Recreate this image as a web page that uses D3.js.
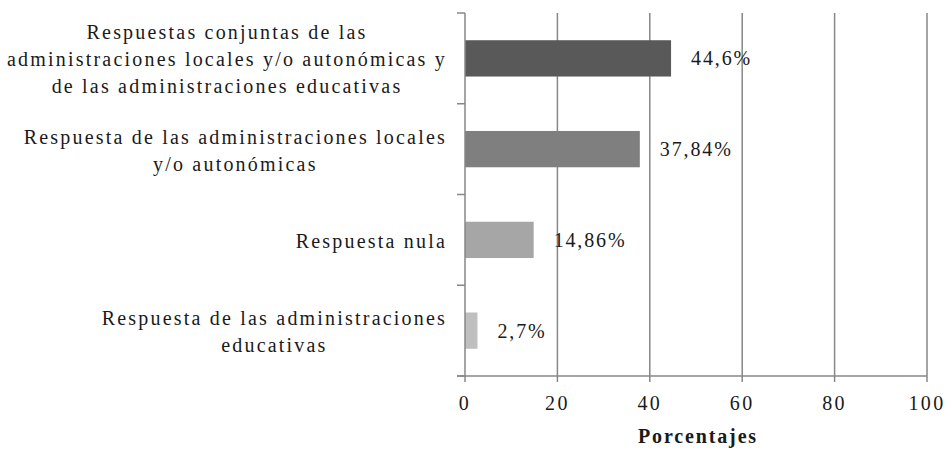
<!DOCTYPE html>
<html><head><meta charset="utf-8">
<script src="https://cdn.jsdelivr.net/npm/d3@7"></script>
<style>
body{margin:0;background:#fff;}
svg text{fill:#1a1a1a;}
</style></head>
<body>
<svg id="c" width="950" height="449"></svg>
<script>
const categories = [
  ["Respuestas conjuntas de las","administraciones locales y/o autonómicas y","de las administraciones educativas"],
  ["Respuesta de las administraciones locales","y/o autonómicas"],
  ["Respuesta nula"],
  ["Respuesta de las administraciones","educativas"]
];
const values = [44.6, 37.84, 14.86, 2.7];
const valueLabels = ["44,6%","37,84%","14,86%","2,7%"];
const barColors = ["#595959","#7f7f7f","#a6a6a6","#bfbfbf"];
const xTicks = [0,20,40,60,80,100];
const xTitle = "Porcentajes";

const svg = d3.select("#c");
const FAM = "'Liberation Serif', 'Times New Roman', serif";
const m = {left:465, right:23, top:13, bottom:73};
const W = 950, H = 449;
const x = d3.scaleLinear().domain([0,100]).range([m.left, W - m.right]);
const y = d3.scaleBand().domain(d3.range(categories.length)).range([m.top, H - m.bottom]).paddingInner(0.6).paddingOuter(0.3);
const yB = d3.scaleLinear().domain([0, categories.length]).range([m.top, H - m.bottom]);
const gridColor = "#878787";
const FS = "20px";

function fitSpacing(sel, target){
  sel.style("letter-spacing","0px");
  const node = sel.node();
  const w = node.getComputedTextLength();
  const n = node.textContent.length;
  return Math.max(0,(target - w)/n);
}

// gridlines
svg.append("g").selectAll("line").data(xTicks.filter(d=>d>0)).join("line")
  .attr("x1", d=>x(d)).attr("x2", d=>x(d))
  .attr("y1", m.top).attr("y2", H - m.bottom)
  .attr("stroke", gridColor).attr("stroke-width", 1.5);

// bars
svg.append("g").selectAll("rect").data(values).join("rect")
  .attr("x", x(0)).attr("y", (d,i)=>y(i))
  .attr("width", d=>x(d)-x(0)).attr("height", y.bandwidth())
  .attr("fill", (d,i)=>barColors[i]);

// left axis
svg.append("line").attr("x1", x(0)).attr("x2", x(0)).attr("y1", m.top).attr("y2", H - m.bottom)
  .attr("stroke", gridColor).attr("stroke-width", 1.5);
svg.append("g").selectAll("line").data(d3.range(categories.length+1)).join("line")
  .attr("x1", x(0)-8).attr("x2", x(0)).attr("y1", d=>yB(d)).attr("y2", d=>yB(d))
  .attr("stroke", gridColor).attr("stroke-width", 1.5);

// bottom axis
svg.append("line").attr("x1", x(0)-8).attr("x2", x(100)).attr("y1", H - m.bottom).attr("y2", H - m.bottom)
  .attr("stroke", gridColor).attr("stroke-width", 1.5);
svg.append("g").selectAll("line").data(xTicks).join("line")
  .attr("x1", d=>x(d)).attr("x2", d=>x(d)).attr("y1", H - m.bottom).attr("y2", H - m.bottom + 6)
  .attr("stroke", gridColor).attr("stroke-width", 1.5);
const tickT = svg.append("g").selectAll("text").data(xTicks).join("text")
  .attr("x", d=>x(d)).attr("y", 410).attr("text-anchor","middle")
  .attr("font-family", FAM).style("font-size",FS).text(d=>d);
const tls = fitSpacing(tickT.filter(d=>d===100), 37);
tickT.style("letter-spacing", tls+"px");

// axis title
const tt = svg.append("text").attr("x", (x(0)+x(100))/2 + 2).attr("y", 443).attr("text-anchor","middle")
  .attr("font-family", FAM).style("font-size",FS).style("font-weight","bold").text(xTitle);
tt.style("letter-spacing", fitSpacing(tt,120)+"px");

// value labels
const vl = svg.append("g").selectAll("text").data(values).join("text")
  .attr("x", d=>x(d)+20).attr("y", (d,i)=>y(i)+y.bandwidth()/2+7)
  .attr("font-family", FAM).style("font-size",FS).text((d,i)=>valueLabels[i]);
const vls = fitSpacing(vl.filter((d,i)=>i===0), 61);
vl.style("letter-spacing", vls+"px");

// category labels
const right = 447, lh = 27;
const probe = svg.append("text").attr("font-family", FAM).style("font-size",FS).text(categories[0][1]);
const cls = fitSpacing(probe, 440);
probe.remove();
categories.forEach((lines,i)=>{
  const g = svg.append("g");
  const cy = yB(i+0.5) + 8;
  const n = lines.length;
  const ts = lines.map((t,j)=> g.append("text")
    .attr("y", cy + (j-(n-1)/2)*lh)
    .attr("text-anchor","middle").attr("font-family", FAM)
    .style("font-size",FS).style("letter-spacing", cls+"px").text(t));
  const maxW = d3.max(ts, t=>t.node().getComputedTextLength());
  ts.forEach(t=>t.attr("x", right - maxW/2));
});
</script>
</body></html>
